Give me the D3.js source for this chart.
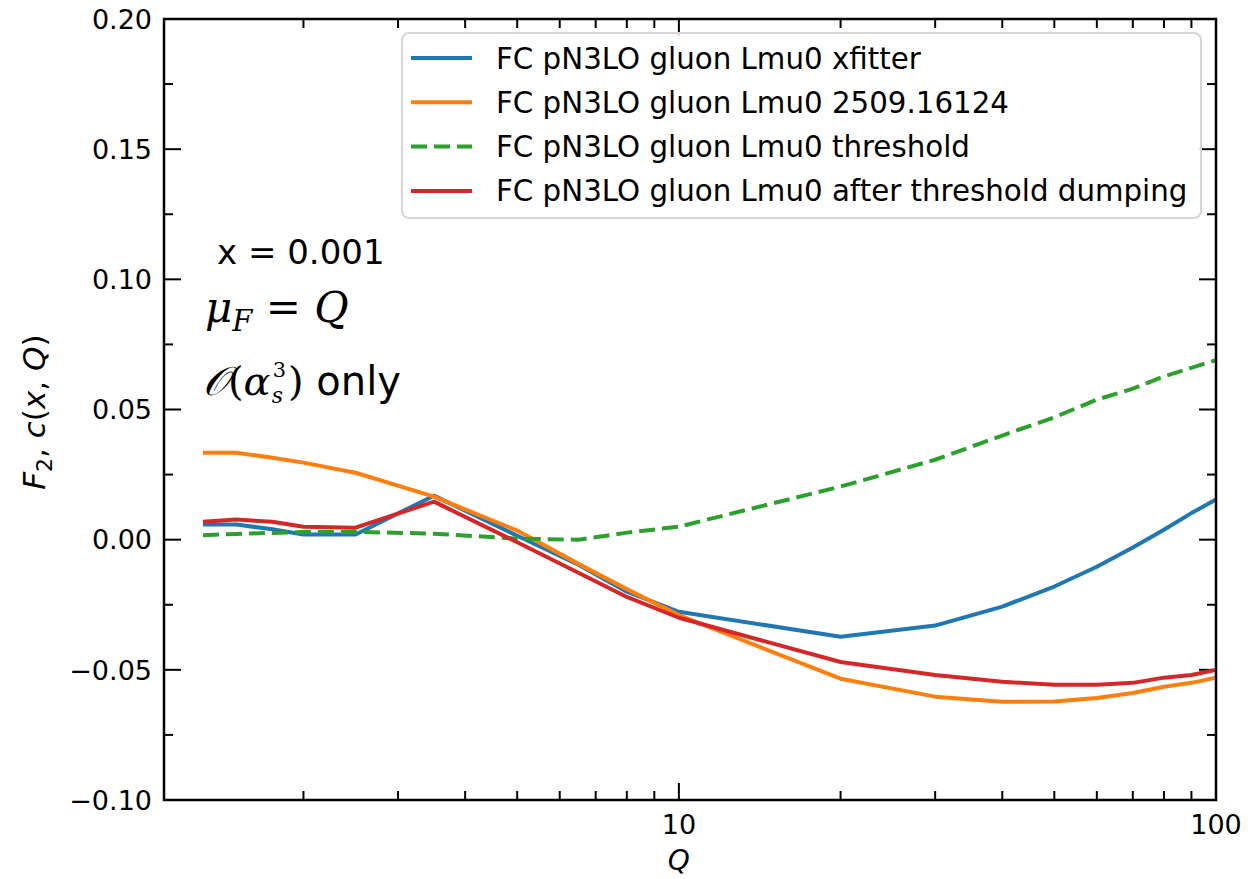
<!DOCTYPE html>
<html>
<head>
<meta charset="utf-8">
<script src="https://cdn.jsdelivr.net/npm/d3@7"></script>
<style>
  body { margin: 0; background: #fff; }
  svg { display: block; font-family: "DejaVu Sans", sans-serif; }
</style>
</head>
<body>
<svg id="chart"></svg>
<script>
// Q grid and the four curves
const qValues = [1.3, 1.5, 1.75, 2, 2.5, 3.5, 5, 6.5, 8, 10, 20, 30, 40, 50, 60, 70, 80, 90, 100];
const xfitter = [0.0058, 0.0058, 0.004, 0.002, 0.002, 0.0169, 0.0015, -0.0096, -0.020, -0.0277, -0.0373, -0.033, -0.0257, -0.018, -0.0104, -0.003, 0.0038, 0.0102, 0.0154];
const paper = [0.0334, 0.0334, 0.0315, 0.0296, 0.0257, 0.0165, 0.0035, -0.0093, -0.019, -0.029, -0.0534, -0.0603, -0.0623, -0.0622, -0.0608, -0.0589, -0.0565, -0.055, -0.053];
const threshold = [0.0017, 0.0022, 0.0026, 0.0029, 0.003, 0.0023, 0.0004, 0.0, 0.0027, 0.005, 0.0204, 0.0307, 0.040, 0.047, 0.0538, 0.058, 0.0627, 0.066, 0.069];
const dumping = [0.0069, 0.0077, 0.0069, 0.005, 0.0046, 0.0146, -0.001, -0.0127, -0.022, -0.030, -0.047, -0.052, -0.0546, -0.0557, -0.0557, -0.055, -0.053, -0.052, -0.050];

const seriesNames = [
  "FC pN3LO gluon Lmu0 xfitter",
  "FC pN3LO gluon Lmu0 2509.16124",
  "FC pN3LO gluon Lmu0 threshold",
  "FC pN3LO gluon Lmu0 after threshold dumping"
];
const seriesColors = ["#1f77b4", "#ff7f0e", "#2ca02c", "#d62728"];
const seriesDashed = [false, false, true, false];
const seriesValues = [xfitter, paper, threshold, dumping];

const yTicks = [-0.10, -0.05, 0.00, 0.05, 0.10, 0.15, 0.20];
const xTicks = [10, 100];

const width = 1248;
const height = 879;
const margin = { top: 19, right: 32, bottom: 79, left: 164 };

const svg = d3.select("#chart").attr("width", width).attr("height", height);

const x = d3.scaleLog()
  .domain([1.1, 100])
  .range([margin.left, width - margin.right]);

const y = d3.scaleLinear()
  .domain([-0.1, 0.2])
  .range([height - margin.bottom, margin.top]);

const x0 = margin.left, x1 = width - margin.right;
const y0 = height - margin.bottom, y1 = margin.top;

// minor ticks
const xMinor = [];
for (let d = 1; d <= 10; d *= 10) {
  for (let k = 2; k <= 9; k++) {
    const v = d * k;
    if (v > 1.1 && v < 100 && v !== 10) xMinor.push(v);
  }
}
const yMinor = d3.range(-0.075, 0.2, 0.05);

const ticks = svg.append("g").attr("stroke", "#000").attr("stroke-width", 2);

// bottom / top x ticks (inward)
xTicks.forEach(v => {
  ticks.append("line").attr("x1", x(v)).attr("x2", x(v)).attr("y1", y0).attr("y2", y0 - 17);
  ticks.append("line").attr("x1", x(v)).attr("x2", x(v)).attr("y1", y1).attr("y2", y1 + 17);
});
xMinor.forEach(v => {
  ticks.append("line").attr("x1", x(v)).attr("x2", x(v)).attr("y1", y0).attr("y2", y0 - 9);
  ticks.append("line").attr("x1", x(v)).attr("x2", x(v)).attr("y1", y1).attr("y2", y1 + 9);
});

// left / right y ticks (inward)
yTicks.forEach(v => {
  ticks.append("line").attr("x1", x0).attr("x2", x0 + 17).attr("y1", y(v)).attr("y2", y(v));
  ticks.append("line").attr("x1", x1).attr("x2", x1 - 17).attr("y1", y(v)).attr("y2", y(v));
});
yMinor.forEach(v => {
  ticks.append("line").attr("x1", x0).attr("x2", x0 + 9).attr("y1", y(v)).attr("y2", y(v));
  ticks.append("line").attr("x1", x1).attr("x2", x1 - 9).attr("y1", y(v)).attr("y2", y(v));
});

// lines
const line = d3.line()
  .x((d, i) => x(qValues[i]))
  .y(d => y(d));

const plot = svg.append("g");
seriesValues.forEach((vals, i) => {
  plot.append("path")
    .datum(vals)
    .attr("d", line)
    .attr("fill", "none")
    .attr("stroke", seriesColors[i])
    .attr("stroke-width", 4)
    .attr("stroke-linejoin", "round")
    .attr("stroke-dasharray", seriesDashed[i] ? "16,7" : null);
});

// frame
svg.append("rect")
  .attr("x", x0).attr("y", y1)
  .attr("width", x1 - x0).attr("height", y0 - y1)
  .attr("fill", "none")
  .attr("stroke", "#000")
  .attr("stroke-width", 2.5);

// tick labels
const fmt = d3.format(".2f");
svg.append("g")
  .selectAll("text")
  .data(yTicks)
  .enter()
  .append("text")
  .attr("x", x0 - 12)
  .attr("y", d => y(d))
  .attr("dy", "0.36em")
  .attr("text-anchor", "end")
  .attr("font-size", 27)
  .text(d => fmt(d).replace("-", "\u2212"));

svg.append("g")
  .selectAll("text")
  .data(xTicks)
  .enter()
  .append("text")
  .attr("x", d => x(d))
  .attr("y", y0 + 34)
  .attr("text-anchor", "middle")
  .attr("font-size", 27)
  .text(d => d);

// axis titles (the original is clipped at the bottom edge; keep it just inside)
svg.append("text")
  .attr("x", x(10))
  .attr("y", y0 + 70)
  .attr("text-anchor", "middle")
  .attr("font-size", 28)
  .attr("font-style", "italic")
  .text("Q");

const yLabel = svg.append("text")
  .attr("transform", `translate(45, ${y(0.049)}) rotate(-90)`)
  .attr("text-anchor", "middle")
  .attr("font-size", 31);
yLabel.append("tspan").attr("font-style", "italic").text("F");
yLabel.append("tspan").attr("font-size", 22).attr("dy", 7).text("2");
yLabel.append("tspan").attr("dy", -7).text(", ");
yLabel.append("tspan").attr("font-style", "italic").text("c");
yLabel.append("tspan").text("(");
yLabel.append("tspan").attr("font-style", "italic").text("x");
yLabel.append("tspan").text(", ");
yLabel.append("tspan").attr("font-style", "italic").text("Q");
yLabel.append("tspan").text(")");

// legend
const legend = svg.append("g");
legend.append("rect")
  .attr("x", 402).attr("y", 33)
  .attr("width", 799).attr("height", 185)
  .attr("rx", 7)
  .attr("fill", "#fff")
  .attr("fill-opacity", 0.85)
  .attr("stroke", "#d6d6d6")
  .attr("stroke-width", 2);

seriesNames.forEach((name, i) => {
  const ly = 58 + i * 44.3;
  legend.append("line")
    .attr("x1", 411).attr("x2", 472)
    .attr("y1", ly).attr("y2", ly)
    .attr("stroke", seriesColors[i])
    .attr("stroke-width", 4)
    .attr("stroke-dasharray", seriesDashed[i] ? "16,7" : null);
  legend.append("text")
    .attr("x", 496)
    .attr("y", ly)
    .attr("dy", "0.36em")
    .attr("font-size", 29.3)
    .text(name);
});

// annotations
svg.append("text")
  .attr("x", 217).attr("y", 264)
  .attr("font-size", 34)
  .text("x = 0.001");

const mu = svg.append("text")
  .attr("x", 205).attr("y", 322)
  .attr("font-family", "'DejaVu Serif', serif")
  .attr("font-size", 42)
  .attr("font-style", "italic");
mu.append("tspan").text("\u03bc");
mu.append("tspan").attr("font-size", 29).attr("dy", 9).text("F");
mu.append("tspan").attr("dy", -9).attr("font-style", "normal").text(" = ");
mu.append("tspan").text("Q");

// O(alpha_s^3) only, pieces placed after measuring
const serif = "'DejaVu Serif', serif";
const ox = 203, oy = 395;
const o1 = svg.append("text")
  .attr("x", ox).attr("y", oy)
  .attr("font-family", serif)
  .attr("font-size", 40);
o1.append("tspan").attr("font-style", "italic").text("\ud835\udcaa");
o1.append("tspan").text("(");
o1.append("tspan").attr("font-style", "italic").text("\u03b1");
const w1 = o1.node().getComputedTextLength();

const sub = svg.append("text")
  .attr("x", ox + w1 + 1).attr("y", oy + 8)
  .attr("font-family", serif)
  .attr("font-style", "italic")
  .attr("font-size", 22)
  .text("s");
const sup = svg.append("text")
  .attr("x", ox + w1 + 2).attr("y", oy - 18)
  .attr("font-family", serif)
  .attr("font-size", 21)
  .text("3");
const w2 = Math.max(sub.node().getComputedTextLength(), sup.node().getComputedTextLength() + 1);

const o2 = svg.append("text")
  .attr("x", ox + w1 + w2 + 3).attr("y", oy)
  .attr("font-size", 40);
o2.append("tspan").attr("font-family", serif).text(")");
o2.append("tspan").text(" only");
</script>
</body>
</html>
